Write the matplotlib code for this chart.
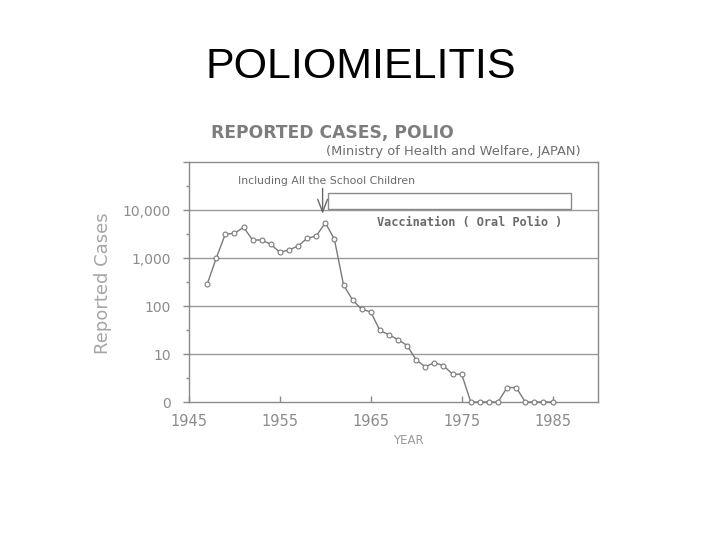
import numpy as np
import matplotlib
matplotlib.use("Agg")
import matplotlib.pyplot as plt
from matplotlib.patches import Rectangle

years = list(range(1947, 1986))
cases = [283, 1000, 3160, 3250, 4370, 2370, 2370, 1930, 1315, 1470, 1780, 2570,
         2880, 5430, 2450, 275, 133, 86, 75, 31, 25, 20, 15, 7.5, 5.4, 6.6, 5.7,
         3.8, 3.8, 0, 0, 0, 0, 2, 2, 0, 0, 0, 0]
ytick_vals = [1, 10, 100, 1000, 10000, 100000]
ytick_labels = ["0", "10", "100", "1,000", "10,000", ""]
xtick_vals = [1945, 1955, 1965, 1975, 1985]

W, H = 720, 540
fig = plt.figure(figsize=(7.2, 5.4), dpi=100)
fig.patch.set_facecolor("white")

def fx(px):
    return px / W

def fy(py):
    return 1 - py / H

ax = fig.add_axes([fx(189), fy(402), (598 - 189) / W, (402 - 162) / H])
gray = "#8a8a8a"
txtgray = "#8c8c8c"

plot_vals = np.where(np.array(cases) == 0, 1, cases)
ax.plot(years, plot_vals, color="#7a7a7a", lw=1.0, marker="o", ms=3.5,
        mfc="white", mec="#7a7a7a", mew=0.8, zorder=3, clip_on=False)

ax.set_yscale("log")
ax.set_ylim(1, 1e5)
ax.set_xlim(1945, 1990)
ax.set_yticks(ytick_vals)
ax.set_yticklabels(ytick_labels)
ax.set_yticks([10 ** (k + 0.5) for k in range(5)], minor=True)
ax.yaxis.set_minor_formatter(matplotlib.ticker.NullFormatter())
ax.set_xticks(xtick_vals)
ax.set_xticklabels([str(v) for v in xtick_vals])
ax.tick_params(axis="y", which="major", direction="out", length=4, width=1,
               color=gray, labelcolor=txtgray, labelsize=10, pad=9)
ax.tick_params(axis="y", which="minor", direction="out", length=2.5, width=1,
               color=gray)
ax.tick_params(axis="x", which="major", direction="in", length=4, width=1,
               color=gray, labelcolor=txtgray, labelsize=10.5, pad=9)
for t in ax.get_xticklabels() + ax.get_yticklabels():
    t.set_family("DejaVu Sans")
for s in ax.spines.values():
    s.set_color(gray)
    s.set_linewidth(1.0)
for v in ytick_vals[1:5]:
    ax.axhline(v, color="#9a9a9a", lw=1.0, zorder=1)

# annotations
ax.text(1950.4, 10 ** 4.6, "Including All the School Children", fontsize=7.8,
        color="#6a6a6a", va="center", ha="left")
ax.annotate("", xy=(1959.7, 10 ** 3.92), xytext=(1959.7, 10 ** 4.45),
            arrowprops=dict(arrowstyle="->,head_length=0.9,head_width=0.35",
                            color="#6a6a6a", lw=1, shrinkA=0, shrinkB=0))
ax.add_patch(Rectangle((1960.3, 10 ** 4.03), 1987.0 - 1960.3,
                       10 ** 4.35 - 10 ** 4.03, fill=False,
                       edgecolor="#8a8a8a", lw=1.0, zorder=2))
ax.text(1965.7, 10 ** 3.73, "Vaccination ( Oral Polio )", fontsize=8.6,
        color="#6a6a6a", fontweight="bold", family="DejaVu Sans Mono",
        va="center", ha="left")

fig.text(fx(361), fy(67.5), "POLIOMIELITIS", fontsize=31,
         family="Liberation Sans", color="black", ha="center", va="center")
fig.text(fx(211), fy(133), "REPORTED CASES, POLIO", fontsize=12.3,
         color="#7d7d7d", fontweight="bold", family="DejaVu Sans",
         ha="left", va="center")
fig.text(fx(326), fy(152), "(Ministry of Health and Welfare, JAPAN)",
         fontsize=9.4, color="#6e6e6e", family="DejaVu Sans",
         ha="left", va="center")
fig.text(fx(103), fy(283), "Reported Cases", fontsize=13, rotation=90,
         color="#a5a5a5", family="DejaVu Sans", ha="center", va="center")
fig.text(fx(408), fy(441), "YEAR", fontsize=8.5, color="#9a9a9a",
         family="DejaVu Sans", ha="center", va="center")

fig.savefig("out.png", dpi=100, facecolor="white")
